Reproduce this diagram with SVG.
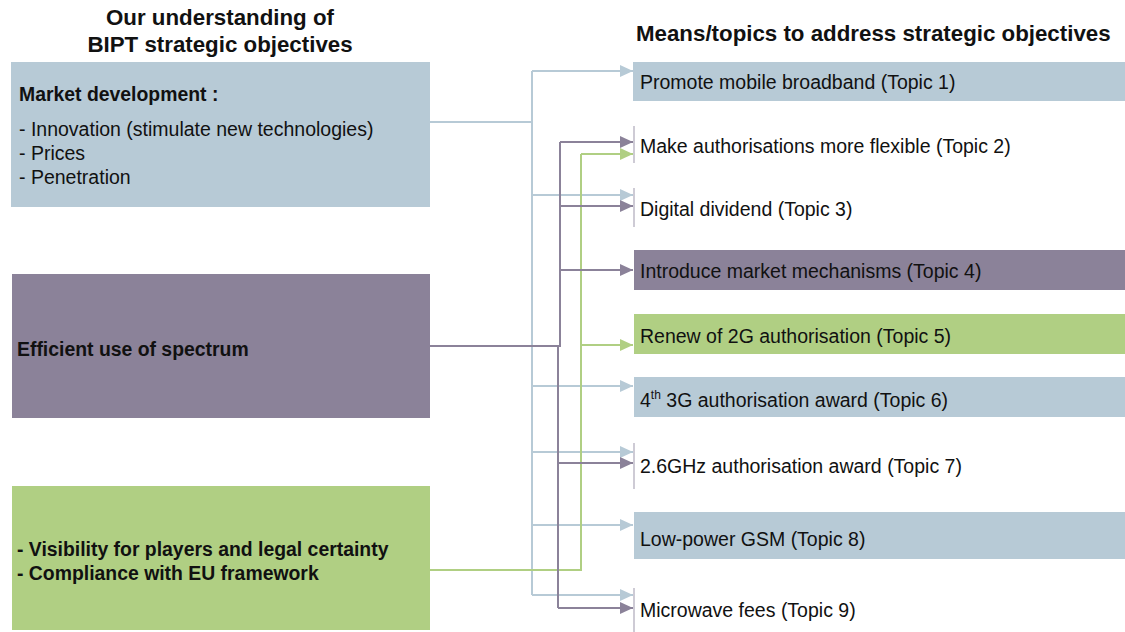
<svg xmlns="http://www.w3.org/2000/svg" width="1125" height="632" viewBox="0 0 1125 632">
<style>
text{font-family:"Liberation Sans",Arial,sans-serif;fill:#111;}
.h{font-size:22.3px;font-weight:bold;}
.t{font-size:19.5px;}
.b{font-size:19.4px;font-weight:bold;}
.blue{fill:#b7cad6;}
.purple{fill:#8b8299;}
.green{fill:#b0cf83;}
.tick{stroke:#9d97ab;stroke-width:1;}
.cb{fill:none;stroke:#b7cad6;stroke-width:2;}
.cp{fill:none;stroke:#8b8299;stroke-width:2;}
.cg{fill:none;stroke:#b0cf83;stroke-width:2;}
</style>
<defs>
<marker id="ab" markerUnits="userSpaceOnUse" viewBox="0 0 13 12" refX="13" refY="6" markerWidth="13" markerHeight="12" orient="auto"><path d="M0,0 L13,6 L0,12 z" fill="#b7cad6"/></marker>
<marker id="ap" markerUnits="userSpaceOnUse" viewBox="0 0 13 12" refX="13" refY="6" markerWidth="13" markerHeight="12" orient="auto"><path d="M0,0 L13,6 L0,12 z" fill="#8b8299"/></marker>
<marker id="ag" markerUnits="userSpaceOnUse" viewBox="0 0 13 12" refX="13" refY="6" markerWidth="13" markerHeight="12" orient="auto"><path d="M0,0 L13,6 L0,12 z" fill="#b0cf83"/></marker>
</defs>

<g id="headers">
<text class="h" x="220" y="25" text-anchor="middle">Our understanding of</text>
<text class="h" x="220" y="52" text-anchor="middle">BIPT strategic objectives</text>
<text class="h" x="636" y="41">Means/topics to address strategic objectives</text>
</g>

<g id="obj-market">
<rect class="blue" x="11" y="62" width="419" height="145"/>
<text class="b" x="19" y="101">Market development :</text>
<text class="t" x="19" y="136">- Innovation (stimulate new technologies)</text>
<text class="t" x="19" y="160">- Prices</text>
<text class="t" x="19" y="184">- Penetration</text>
</g>

<g id="obj-spectrum">
<rect class="purple" x="12" y="274" width="418" height="144"/>
<text class="b" x="17" y="356">Efficient use of spectrum</text>
</g>

<g id="obj-visibility">
<rect class="green" x="12" y="486" width="418" height="144"/>
<text class="b" x="17" y="556">- Visibility for players and legal certainty</text>
<text class="b" x="17" y="580">- Compliance with EU framework</text>
</g>

<g id="connectors">
<path class="cb" d="M430,122 H532" stroke-width="3"/>
<path class="cb" d="M532,71 V595"/>
<path class="cb" d="M532,71 H633" marker-end="url(#ab)"/>
<path class="cb" d="M532,195 H633" marker-end="url(#ab)"/>
<path class="cb" d="M532,386 H633" marker-end="url(#ab)"/>
<path class="cb" d="M532,452 H633" marker-end="url(#ab)"/>
<path class="cb" d="M532,525 H633" marker-end="url(#ab)"/>
<path class="cb" d="M532,595 H633" marker-end="url(#ab)"/>

<path class="cg" d="M430,570 H581 V154"/>
<path class="cg" d="M581,154 H633" marker-end="url(#ag)"/>
<path class="cg" d="M581,345 H633" marker-end="url(#ag)"/>

<path class="cp" d="M430,346 H560" stroke-width="3"/>
<path class="cp" d="M560,142 V347"/>
<path class="cp" d="M558,346 V608"/>
<path class="cp" d="M560,142 H633" marker-end="url(#ap)"/>
<path class="cp" d="M560,206 H633" marker-end="url(#ap)"/>
<path class="cp" d="M560,270 H633" marker-end="url(#ap)"/>
<path class="cp" d="M558,463 H633" marker-end="url(#ap)"/>
<path class="cp" d="M558,608 H633" marker-end="url(#ap)"/>
</g>

<g id="topic1">
<rect class="blue" x="633" y="62" width="492" height="39"/>
<text class="t" x="640" y="89">Promote mobile broadband (Topic 1)</text>
</g>
<g id="topic2">
<line class="tick" x1="634" y1="126" x2="634" y2="163"/>
<text class="t" x="640" y="153">Make authorisations more flexible (Topic 2)</text>
</g>
<g id="topic3">
<line class="tick" x1="634" y1="188" x2="634" y2="227"/>
<text class="t" x="640" y="216">Digital dividend (Topic 3)</text>
</g>
<g id="topic4">
<rect class="purple" x="634" y="250" width="491" height="40"/>
<text class="t" x="640" y="278">Introduce market mechanisms (Topic 4)</text>
</g>
<g id="topic5">
<rect class="green" x="634" y="314" width="491" height="40"/>
<text class="t" x="640" y="343">Renew of 2G authorisation (Topic 5)</text>
</g>
<g id="topic6">
<rect class="blue" x="634" y="377" width="491" height="40"/>
<text class="t" x="640" y="407">4<tspan font-size="12" dy="-8">th</tspan><tspan dy="8"> 3G authorisation award (Topic 6)</tspan></text>
</g>
<g id="topic7">
<line class="tick" x1="634" y1="443" x2="634" y2="489"/>
<text class="t" x="640" y="473">2.6GHz authorisation award (Topic 7)</text>
</g>
<g id="topic8">
<rect class="blue" x="634" y="512" width="491" height="47"/>
<text class="t" x="640" y="546">Low-power GSM (Topic 8)</text>
</g>
<g id="topic9">
<line class="tick" x1="634" y1="588" x2="634" y2="632"/>
<text class="t" x="640" y="617">Microwave fees (Topic 9)</text>
</g>
</svg>
